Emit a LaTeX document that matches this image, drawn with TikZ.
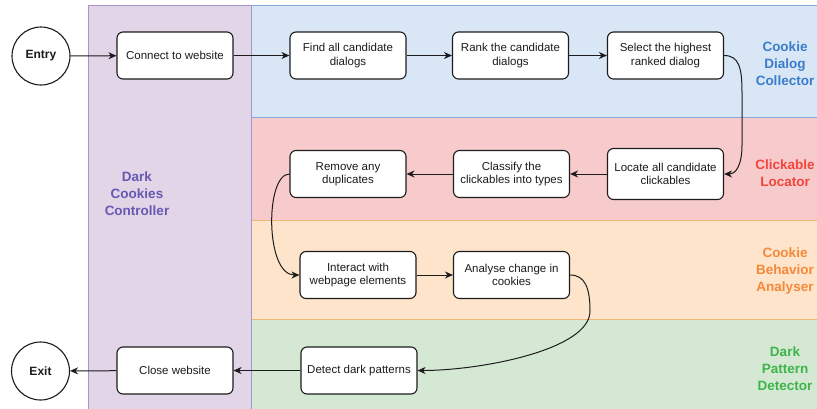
\documentclass[tikz,border=0pt]{standalone}
\usepackage{fontspec}
\setmainfont{Liberation Sans}
\usetikzlibrary{arrows.meta}

\definecolor{ink}{HTML}{1C1C1C}
\definecolor{purpleFill}{HTML}{E1D5E7}
\definecolor{purpleLine}{HTML}{A795C9}
\definecolor{purpleText}{HTML}{6759B3}
\definecolor{blueFill}{HTML}{D8E6F6}
\definecolor{blueLine}{HTML}{86AAE0}
\definecolor{blueText}{HTML}{3A7DC9}
\definecolor{redFill}{HTML}{F7CBCB}
\definecolor{redLine}{HTML}{E59A95}
\definecolor{redText}{HTML}{F2453D}
\definecolor{orangeFill}{HTML}{FDE4CA}
\definecolor{orangeLine}{HTML}{EDB878}
\definecolor{orangeText}{HTML}{F5893A}
\definecolor{greenFill}{HTML}{D5E8D4}
\definecolor{greenLine}{HTML}{9CC79A}
\definecolor{greenText}{HTML}{3DB54A}

\begin{document}
\begin{tikzpicture}[x=1pt,y=-1pt,
  stepbox/.style={draw=ink, line width=1.1pt, rounded corners=6pt, fill=white,
    minimum width=116pt, minimum height=47pt, align=center, text=ink,
    inner sep=2pt, font=\fontsize{11.5}{13.5}\selectfont},
  terminal/.style={circle, draw=ink, line width=1.1pt, fill=white,
    minimum size=58pt, inner sep=0pt, text=ink,
    font=\fontsize{12}{14}\selectfont\bfseries},
  lanelabel/.style={align=center, font=\fontsize{13.5}{16.7}\selectfont\bfseries},
  arr/.style={draw=ink, line width=1pt,
    -{Stealth[length=8pt,width=7pt,inset=2.5pt]}}
]
\clip (0,0) rectangle (817,408);
\fill[white] (0,0) rectangle (817,408);

% swimlanes
\filldraw[fill=redFill, draw=redLine, line width=0.8pt] (251,117) rectangle (840,220);
\filldraw[fill=blueFill, draw=blueLine, line width=0.8pt] (251,5) rectangle (840,117);
\filldraw[fill=greenFill, draw=greenLine, line width=0.8pt] (251,319) rectangle (840,420);
\filldraw[fill=orangeFill, draw=orangeLine, line width=0.8pt] (251,220) rectangle (840,319);
\filldraw[fill=purpleFill, draw=purpleLine, line width=0.8pt] (88,5) rectangle (251,420);

% lane titles
\node[lanelabel, text=purpleText] (tctrl) at (137,193.5) {Dark\\Cookies\\Controller};
\node[lanelabel, text=blueText] (tdialog) at (785,63.5) {Cookie\\Dialog\\Collector};
\node[lanelabel, text=redText] (tclick) at (785,173.5) {Clickable\\Locator};
\node[lanelabel, text=orangeText] (tbehav) at (785,271) {Cookie\\Behavior\\Analyser};
\node[lanelabel, text=greenText] (tdark) at (785,368.5) {Dark\\Pattern\\Detector};

% terminals
\node[terminal] (entry) at (41,56) {Entry};
\node[terminal] (exit) at (40.5,371) {Exit};

% process steps
\node[stepbox] (connect) at (175,55.5) {Connect to website};
\node[stepbox] (find) at (348,55.5) {Find all candidate\\dialogs};
\node[stepbox] (rank) at (510.5,55.5) {Rank the candidate\\dialogs};
\node[stepbox] (select) at (665.5,55.5) {Select the highest\\ranked dialog};
\node[stepbox, minimum height=51pt] (locate) at (665.5,174) {Locate all candidate\\clickables};
\node[stepbox] (classify) at (511.5,174) {Classify the\\clickables into types};
\node[stepbox] (remove) at (348,174) {Remove any\\duplicates};
\node[stepbox] (interact) at (358,275) {Interact with\\webpage elements};
\node[stepbox] (analyse) at (511.5,275) {Analyse change in\\cookies};
\node[stepbox] (detect) at (359,370.5) {Detect dark patterns};
\node[stepbox] (close) at (175,370.5) {Close website};

% flow
\draw[arr] (entry) -- (connect);
\draw[arr] (connect) -- (find);
\draw[arr] (find) -- (rank);
\draw[arr] (rank) -- (select);
\draw[arr] (select.east) .. controls (739,55.5) and (742,68) .. (742,92)
  -- (742,145) .. controls (742,165) and (736,174) .. (locate.east);
\draw[arr] (locate) -- (classify);
\draw[arr] (classify) -- (remove);
\draw[arr] (remove.west) .. controls (265,174) and (265,275) .. (interact.west);
\draw[arr] (interact) -- (analyse);
\draw[arr] (analyse.east) .. controls (585,275) and (590,288) .. (590,311)
  .. controls (590,350) and (480,370.5) .. (detect.east);
\draw[arr] (detect) -- (close);
\draw[arr] (close) -- (exit);
\end{tikzpicture}
\end{document}
